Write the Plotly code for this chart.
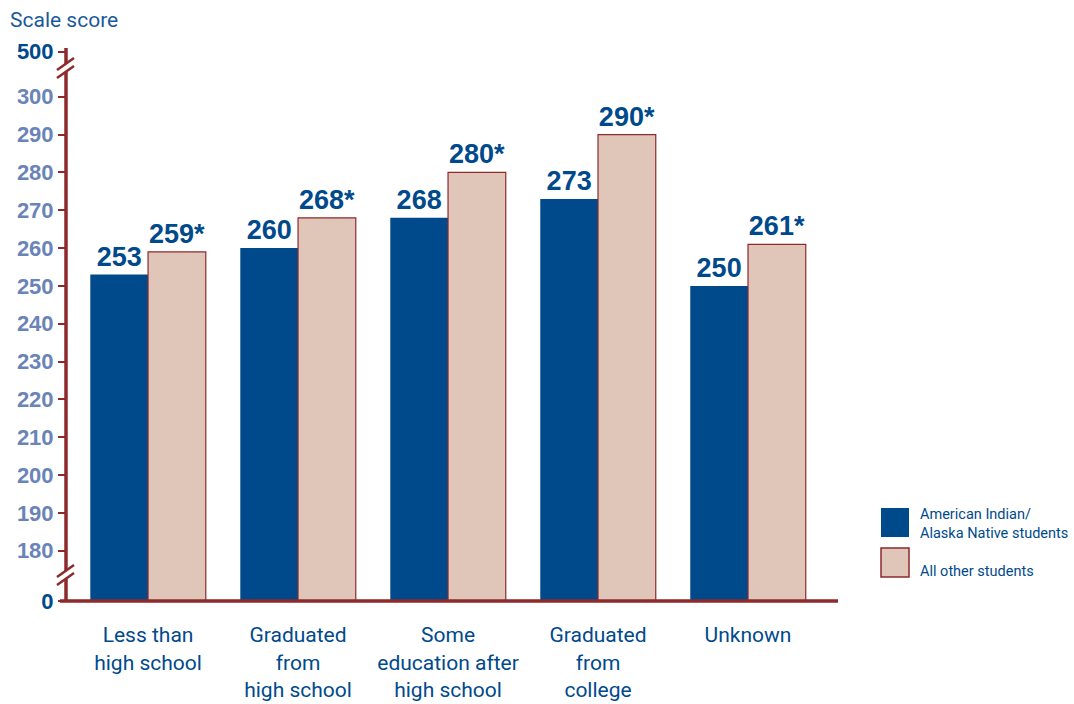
import plotly.graph_objects as go

categories = ["Less than<br>high school", "Graduated<br>from<br>high school",
              "Some<br>education after<br>high school", "Graduated<br>from<br>college", "Unknown"]
aian = [253, 260, 268, 273, 250]
others = [259, 268, 280, 290, 261]
others_sig = [True, True, True, True, True]
series_names = ["American Indian/<br>Alaska Native students", "All other students"]

tick_vals_real = [180, 190, 200, 210, 220, 230, 240, 250, 260, 270, 280, 290, 300]
AX_BOTTOM = 166.7   # where "0" sits on the broken axis
AX_500 = 311.9      # where "500" sits on the broken axis
AX_TOP = 312.9

BLUE = "#004a8c"
PINK = "#e0c5b9"
RED = "#8c2a2c"
LIGHT = "#6a84b8"
FONT = "Roboto, Liberation Sans, sans-serif"
BOLD = "Liberation Sans, Arial, sans-serif"

W, H = 1074, 704
L, R, T, B = 66, 236, 48, 103
PW, PH = W - L - R, H - T - B


def px(x):
    return (x - L) / PW


def py(y):
    return (H - B - y) / PH


fig = go.Figure()
fig.add_bar(x=categories, y=aian, name=series_names[0], marker=dict(color=BLUE, line=dict(width=0)),
            text=[f"<b>{v}</b>" for v in aian], textposition="outside",
            textfont=dict(size=27, color=BLUE, family=BOLD))
fig.add_bar(x=categories, y=others, name=series_names[1], marker=dict(color=PINK, line=dict(width=1.2, color=RED)),
            text=[f"<b>{v}{'*' if s else ''}</b>" for v, s in zip(others, others_sig)], textposition="outside",
            textfont=dict(size=27, color=BLUE, family=BOLD))

tickvals = [AX_BOTTOM] + tick_vals_real + [AX_500]
ticktext = [f"<b><span style='color:{BLUE}'>0</span></b>"] + \
           [f"<b>{v}</b>" for v in tick_vals_real] + \
           [f"<b><span style='color:{BLUE}'>500</span></b>"]

fig.update_layout(
    width=W, height=H, margin=dict(l=L, r=R, t=T, b=B),
    plot_bgcolor="white", paper_bgcolor="white",
    barmode="group", bargap=0.23, bargroupgap=0,
    showlegend=False,
    uniformtext=dict(minsize=10, mode="show"),
    xaxis=dict(range=[-0.547, 4.6], showgrid=False, showline=False, ticks="outside", ticklen=15,
               tickcolor="rgba(0,0,0,0)", tickfont=dict(size=21, color=BLUE, family=FONT), zeroline=False,
               automargin=False),
    yaxis=dict(range=[AX_BOTTOM, AX_TOP], tickvals=tickvals, ticktext=ticktext, showgrid=False,
               showline=False, ticks="outside", ticklen=7, tickwidth=2, tickcolor=RED,
               tickfont=dict(size=22, color=LIGHT, family=BOLD), zeroline=False, automargin=False),
)

shapes = []
# axes lines
shapes.append(dict(type="line", xref="paper", yref="paper", x0=px(66), x1=px(66), y0=py(601), y1=py(48),
                   line=dict(color=RED, width=3.5)))
shapes.append(dict(type="line", xref="paper", yref="paper", x0=px(60), x1=px(838), y0=py(601), y1=py(601),
                   line=dict(color=RED, width=3.5)))
# axis breaks
for cy in (575, 68):
    shapes.append(dict(type="path", xref="paper", yref="paper",
                       path=f"M {px(60)} {py(cy+6)} L {px(72)} {py(cy)} L {px(72)} {py(cy-7)} L {px(60)} {py(cy-1)} Z",
                       fillcolor="white", line=dict(width=0)))
    for off in (4, -4):
        shapes.append(dict(type="line", xref="paper", yref="paper",
                           x0=px(57), y0=py(cy + 7 + off - 4 + 3), x1=px(74), y1=py(cy + off - 4 - 1 + 3 - 4),
                           line=dict(color=RED, width=2.5)))
# legend swatches
shapes.append(dict(type="rect", xref="paper", yref="paper", x0=px(881), x1=px(909), y0=py(537), y1=py(508),
                   fillcolor=BLUE, line=dict(width=0)))
shapes.append(dict(type="rect", xref="paper", yref="paper", x0=px(881), x1=px(909), y0=py(577), y1=py(548),
                   fillcolor=PINK, line=dict(width=1.5, color=RED)))
fig.update_layout(shapes=shapes)

ann = [
    dict(text="Scale score", xref="paper", yref="paper", x=px(8), y=py(20), xanchor="left", yanchor="middle",
         showarrow=False, font=dict(size=21, color="#1a5a9a", family=FONT)),
    dict(text=series_names[0], xref="paper", yref="paper", x=px(918), y=py(524), xanchor="left", yanchor="middle",
         showarrow=False, align="left", font=dict(size=14.5, color=BLUE, family=FONT)),
    dict(text=series_names[1], xref="paper", yref="paper", x=px(918), y=py(571), xanchor="left", yanchor="middle",
         showarrow=False, align="left", font=dict(size=14.5, color=BLUE, family=FONT)),
]
fig.update_layout(annotations=ann)

fig.write_html("out.html", config={"displayModeBar": False},
               post_script="document.body.style.margin='0';document.body.style.overflow='hidden';")
